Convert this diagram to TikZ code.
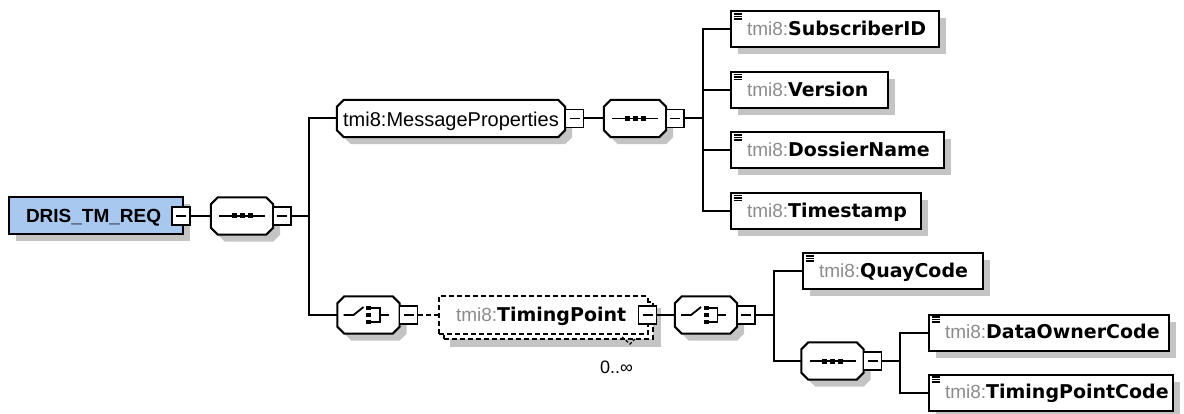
\documentclass[tikz,border=0pt]{standalone}
\usepackage{fontspec}
\setmainfont{Liberation Sans}
\newfontfamily\djv{DejaVu Sans}
\usetikzlibrary{shadows}
\pgfdeclarelayer{back}
\pgfsetlayers{back,main}
\definecolor{shadowgray}{HTML}{C4C4C4}
\definecolor{rootblue}{HTML}{A9C8EF}
\definecolor{nsgray}{HTML}{8C8C8C}
\tikzset{
  conn/.style={draw=black, line width=2pt},
  dconn/.style={conn, dash pattern=on 5pt off 3pt},
  dropsh/.style={drop shadow={shadow xshift=7pt, shadow yshift=-7pt, opacity=1, fill=shadowgray}},
  xbox/.style={draw=black, line width=2pt, fill=white, rectangle, minimum height=36pt,
    inner ysep=0pt, inner xsep=16pt, anchor=west, text height=14pt, text depth=1.5pt},
  elem/.style={xbox, dropsh, font=\fontsize{19}{22}\selectfont},
  rootbox/.style={xbox, dropsh, fill=rootblue, minimum height=37pt, inner xsep=17pt,
    text height=14.5pt, text depth=1pt, font=\fontsize{19}{22}\selectfont\bfseries},
  tpbox/.style={xbox, dash pattern=on 5pt off 3pt, minimum width=209pt, minimum height=37pt,
    inner xsep=17pt, font=\fontsize{19}{22}\selectfont},
  minusbox/.style={draw=black, line width=1.8pt, fill=white, rectangle, minimum width=18pt,
    minimum height=18pt, inner sep=0pt,
    path picture={\draw[line width=1.8pt] ([xshift=4pt]path picture bounding box.west) -- ([xshift=-4pt]path picture bounding box.east);}},
  comp/.style={rectangle, draw=none, minimum width=62pt, minimum height=37pt, inner sep=0pt},
  octline/.style={draw=black, line width=2pt, fill=white, line join=miter},
  iconline/.style={line width=1.8pt},
  eline/.style={line width=1.2pt},
  occtick/.style={line width=1.3pt, dash pattern=on 3pt off 2pt},
}
% octagon (compositor / complex element) drawn around a named node, with its shadow
\newcommand\drawoct[1]{%
  \begin{pgfonlayer}{back}
  \path[fill=shadowgray, transform canvas={shift={(7pt,-7pt)}}]
    ([xshift=7pt]#1.north west) -- ([xshift=-7pt]#1.north east) -- ([yshift=-7pt]#1.north east)
    -- ([yshift=7pt]#1.south east) -- ([xshift=-7pt]#1.south east) -- ([xshift=7pt]#1.south west)
    -- ([yshift=7pt]#1.south west) -- ([yshift=-7pt]#1.north west) -- cycle;
  \path[octline]
    ([xshift=7pt]#1.north west) -- ([xshift=-7pt]#1.north east) -- ([yshift=-7pt]#1.north east)
    -- ([yshift=7pt]#1.south east) -- ([xshift=-7pt]#1.south east) -- ([xshift=7pt]#1.south west)
    -- ([yshift=7pt]#1.south west) -- ([yshift=-7pt]#1.north west) -- cycle;
  \end{pgfonlayer}}
% sequence icon
\newcommand\seqicon[1]{%
  \draw[iconline] ([xshift=-23pt]#1.center) -- ([xshift=23pt]#1.center);
  \fill ([shift={(-10.5pt,-2.5pt)}]#1.center) rectangle ([shift={(-5.5pt,2.5pt)}]#1.center);
  \fill ([shift={(-2.5pt,-2.5pt)}]#1.center) rectangle ([shift={(2.5pt,2.5pt)}]#1.center);
  \fill ([shift={(5.5pt,-2.5pt)}]#1.center) rectangle ([shift={(10.5pt,2.5pt)}]#1.center);}
% choice icon
\newcommand\choiceicon[1]{%
  \draw[iconline] ([xshift=-25pt]#1.center) -- ([xshift=-15pt]#1.center) -- ([shift={(-5pt,8pt)}]#1.center);
  \fill ([shift={(-2.5pt,4.75pt)}]#1.center) rectangle ([shift={(2.5pt,9.25pt)}]#1.center);
  \fill ([shift={(-2.5pt,-2.25pt)}]#1.center) rectangle ([shift={(2.5pt,2.25pt)}]#1.center);
  \fill ([shift={(-2.5pt,-9.25pt)}]#1.center) rectangle ([shift={(2.5pt,-4.75pt)}]#1.center);
  \draw[iconline] ([shift={(2.5pt,7pt)}]#1.center) -- ([shift={(11.5pt,7pt)}]#1.center)
    -- ([shift={(11.5pt,-7pt)}]#1.center) -- ([shift={(2.5pt,-7pt)}]#1.center);
  \draw[iconline] ([xshift=11.5pt]#1.center) -- ([xshift=20pt]#1.center);}
% element with simple content
\newcommand\elemnode[5]{%
  \node[elem, minimum width=#4pt] (#1) at (#2,#3)
    {\makebox[\dimexpr #4pt-32pt\relax][l]{\textcolor{nsgray}{tmi8:}{\djv\bfseries #5}}};
  \draw[eline] ([shift={(3.5pt,-3.5pt)}]#1.north west) -- ([shift={(11.5pt,-3.5pt)}]#1.north west)
    ([shift={(3.5pt,-6pt)}]#1.north west) -- ([shift={(11.5pt,-6pt)}]#1.north west)
    ([shift={(3.5pt,-8.5pt)}]#1.north west) -- ([shift={(11.5pt,-8.5pt)}]#1.north west);}

\begin{document}
\begin{tikzpicture}[x=1pt, y=-1pt]
\useasboundingbox (0,0) rectangle (1184,414);

% root element
\node[rootbox, minimum width=174pt] (root) at (8,216) {\makebox[140pt][l]{DRIS\_TM\_REQ}};
\node[minusbox] (mr) at (181,216) {};

% sequence 1
\node[comp] (s1) at (242,216) {};
\drawoct{s1}
\seqicon{s1}
\node[minusbox] (ms1) at (282,216) {};
\coordinate (b1) at (309,216);

% MessageProperties
\node[comp, minimum width=228pt, font=\fontsize{20}{22}\selectfont, text height=16.5pt, text depth=0pt] (mp) at (451,118.5) {tmi8:MessageProperties};
\drawoct{mp}
\node[minusbox] (mmp) at (574.5,118.5) {};

% sequence 2
\node[comp, minimum width=62pt] (s2) at (635,118.5) {};
\drawoct{s2}
\seqicon{s2}
\node[minusbox] (ms2) at (675,118.5) {};
\coordinate (b2) at (703,118.5);

\elemnode{sub}{730}{29.5}{208}{SubscriberID}
\elemnode{ver}{730}{90}{157}{Version}
\elemnode{dos}{730}{150.5}{213}{DossierName}
\elemnode{tst}{730}{211}{190}{Timestamp}

% choice 1
\node[comp] (c1) at (368.5,315) {};
\drawoct{c1}
\choiceicon{c1}
\node[minusbox] (mc1) at (408.5,315) {};

% TimingPoint (repeated)
\node[tpbox] (tpb) at (443,320) {};
\begin{pgfonlayer}{back}
\fill[shadowgray] ([shift={(7pt,-7pt)}]tpb.south west) rectangle ([shift={(7pt,-7pt)}]tpb.north east);
\end{pgfonlayer}
\node[tpbox] (tp) at (438,315) {\makebox[175pt][l]{\textcolor{nsgray}{tmi8:}{\djv\bfseries TimingPoint}}};
\node[minusbox] (mtp) at (647.5,315) {};
\node[anchor=base, font=\fontsize{18}{20}\selectfont] (occ) at (616.5,373) {0..∞};
\draw[occtick] (622,337) -- (630,344) -- (635,339);

% choice 2
\node[comp] (c2) at (706,315) {};
\drawoct{c2}
\choiceicon{c2}
\node[minusbox] (mc2) at (746,315) {};
\coordinate (b3) at (774,315);

\elemnode{quay}{802}{271.5}{180}{QuayCode}

% sequence 3
\node[comp] (s3) at (832.5,361) {};
\drawoct{s3}
\seqicon{s3}
\node[minusbox] (ms3) at (872.5,361) {};
\coordinate (b4) at (900,361);

\elemnode{dat}{928}{332.5}{240}{DataOwnerCode}
\elemnode{tpc}{928}{392.5}{244}{TimingPointCode}

% connectors
\draw[conn] (mr.east) -- (s1.west);
\draw[conn] (ms1.east) -- (b1);
\draw[conn] (mp.west) -| (b1) |- (c1.west);
\draw[conn] (mmp.east) -- (s2.west);
\draw[conn] (ms2.east) -- (b2);
\draw[conn] (sub.west) -| (b2);
\draw[conn] (ver.west) -| (b2);
\draw[conn] (dos.west) -| (b2);
\draw[conn] (tst.west) -| (b2);
\draw[dconn] (mc1.east) -- (tp.west);
\draw[conn] (mtp.east) -- (c2.west);
\draw[conn] (mc2.east) -- (b3);
\draw[conn] (quay.west) -| (b3);
\draw[conn] (s3.west) -| (b3);
\draw[conn] (ms3.east) -- (b4);
\draw[conn] (dat.west) -| (b4);
\draw[conn] (tpc.west) -| (b4);
\end{tikzpicture}
\end{document}
